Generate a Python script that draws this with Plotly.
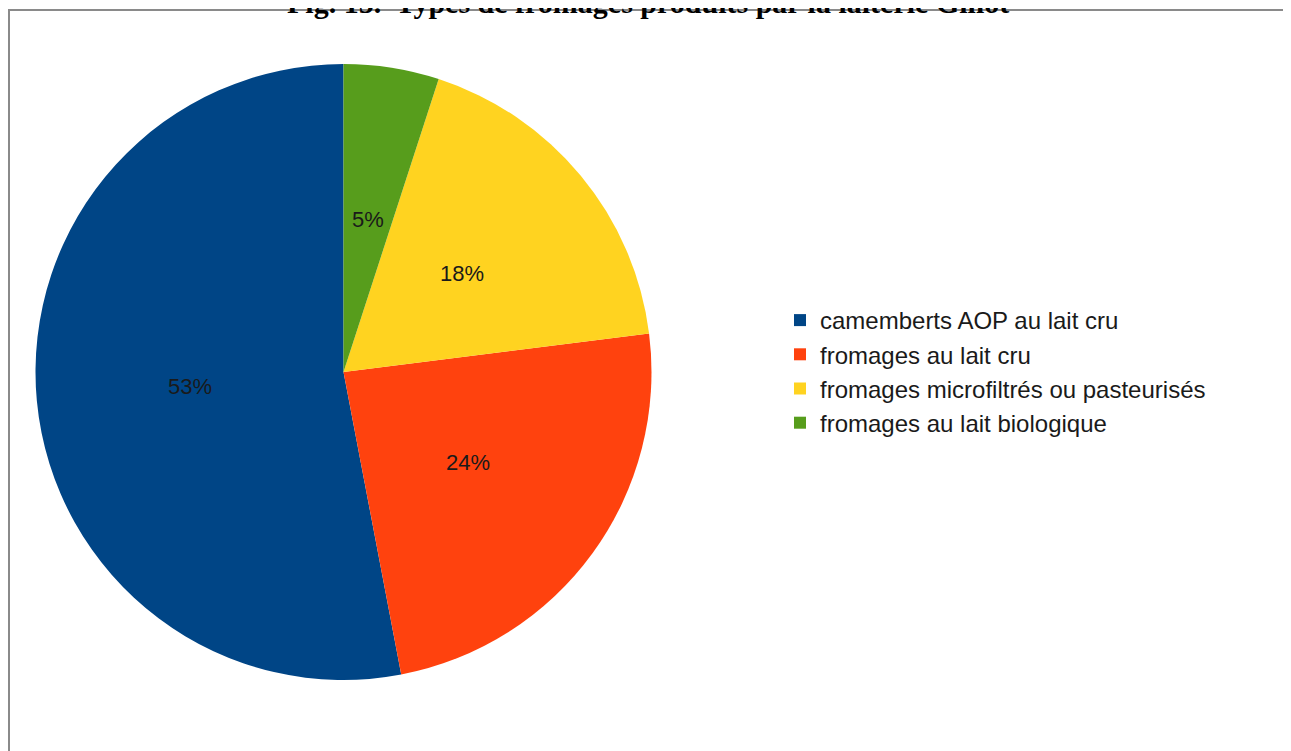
import math
import plotly.graph_objects as go

# Données
categories = [
    "camemberts AOP au lait cru",
    "fromages au lait cru",
    "fromages microfiltrés ou pasteurisés",
    "fromages au lait biologique",
]
parts = [53, 24, 18, 5]
colors = ["#004586", "#ff420e", "#ffd320", "#579d1c"]

title_text = "Fig. 15.\u00a0 Types de fromages produits par la laiterie Gillot"

# la page html ajoute 8 px de marge autour du graphique
W, H = 1283, 743

# disque : centre et rayon en pixels
cx_px, cy_px, R = 335.5, 364, 308
dom_x = [(cx_px - R) / W, (cx_px + R) / W]
dom_y = [(H - cy_px - R) / H, (H - cy_px + R) / H]

total = sum(parts)

fig = go.Figure()

# premier secteur qui finit à midi, les suivants dans le sens anti-horaire
fig.add_trace(
    go.Pie(
        labels=categories,
        values=parts,
        marker=dict(colors=colors, line=dict(width=0)),
        sort=False,
        direction="counterclockwise",
        rotation=360 * (1 - parts[0] / total),
        textinfo="none",
        domain=dict(x=dom_x, y=dom_y),
        hoverinfo="label+percent",
    )
)

# étiquettes de pourcentage à mi-rayon (comme LibreOffice)
cum = 0
for p in parts:
    theta = math.radians(90 + 360 * (cum + p / 2) / total)
    cum += p
    fig.add_annotation(
        text=f"{round(100 * p / total)}%",
        xref="paper", yref="paper",
        x=(cx_px + 0.5 * R * math.cos(theta)) / W,
        y=(H - cy_px + 0.5 * R * math.sin(theta)) / H,
        xanchor="center", yanchor="middle",
        showarrow=False,
        font=dict(family="Liberation Sans", size=22, color="#1a1a1a"),
    )

# cadre gris autour du graphique
fig.add_shape(
    type="rect",
    xref="paper", yref="paper",
    x0=1 / W, x1=1.05, y0=-0.05, y1=1 - 2 / H,
    line=dict(color="#8a8a8a", width=2),
    layer="below",
)

# titre (coupé en haut comme sur l'original)
fig.add_annotation(
    text=f"<b>{title_text}</b>",
    xref="paper", yref="paper",
    x=639.5 / W, y=1 + 5.5 / H,
    xanchor="center", yanchor="middle",
    showarrow=False,
    font=dict(family="Liberation Serif", size=30, color="#000000"),
)

fig.update_layout(
    width=W,
    height=H,
    margin=dict(l=0, r=0, t=0, b=0),
    paper_bgcolor="white",
    plot_bgcolor="white",
    showlegend=True,
    legend=dict(
        x=772 / W,
        y=379.5 / H,
        xanchor="left",
        yanchor="middle",
        font=dict(family="Liberation Sans", size=24, color="#1a1a1a"),
        bgcolor="rgba(0,0,0,0)",
    ),
)

fig.write_html("out.html")
